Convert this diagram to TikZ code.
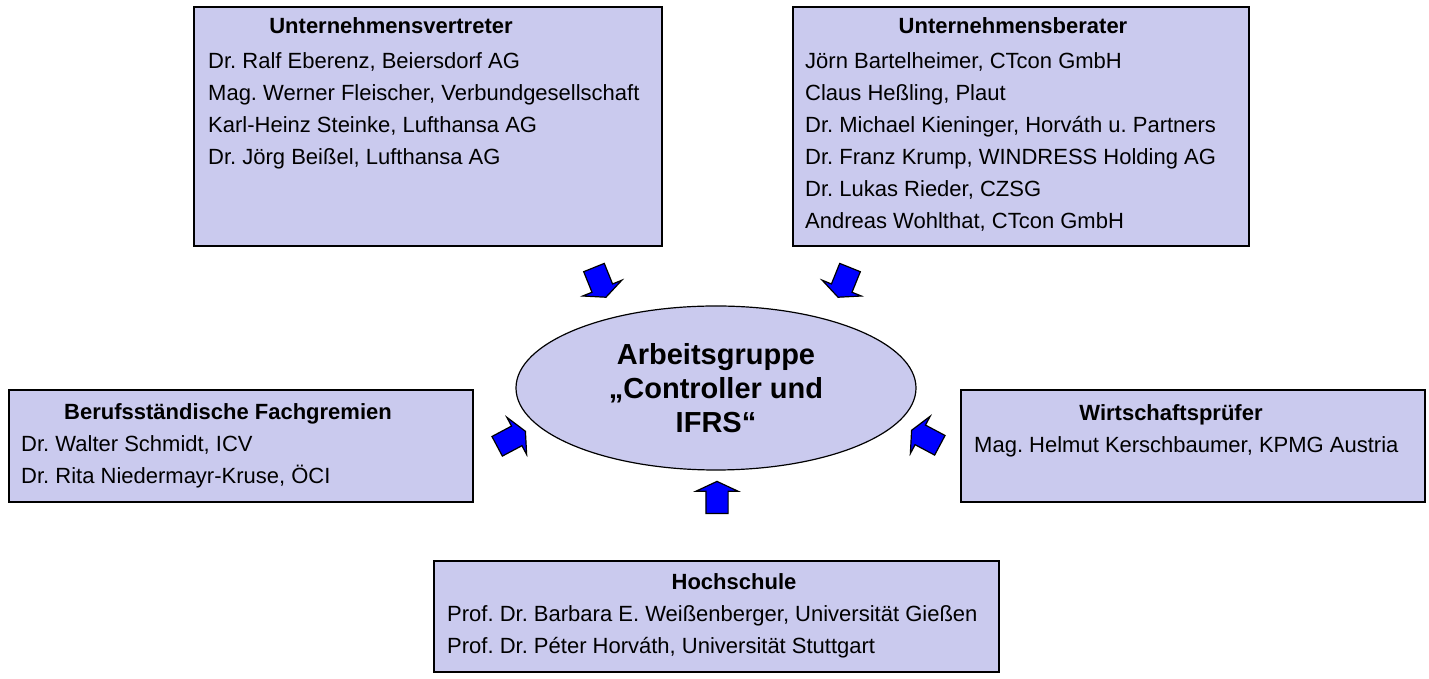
\documentclass[tikz,border=0pt]{standalone}
\usepackage{fontspec}
\setmainfont{Liberation Sans}
\usetikzlibrary{shapes.geometric,shapes.arrows}
\definecolor{boxfill}{RGB}{202,202,238}
\definecolor{arrowblue}{RGB}{0,0,255}
\frenchspacing

\begin{document}
\begin{tikzpicture}[x=1pt, y=1pt,
    orgbox/.style={draw=black, line width=2pt, fill=boxfill, anchor=south west, inner sep=0pt},
    grouphead/.style={font=\fontsize{22}{26}\selectfont\bfseries, anchor=base, inner sep=0pt},
    member/.style={font=\fontsize{22}{26}\selectfont, anchor=base west, inner sep=0pt},
    inflow/.style={single arrow, draw=black, line width=1.2pt, fill=arrowblue,
      inner xsep=4pt, inner ysep=10.5pt, minimum height=32pt,
      single arrow head extend=10pt, single arrow tip angle=130}]
    \useasboundingbox (0,0) rectangle (1429,679) ;

    % Arbeitsgruppe in der Mitte
    \node[ellipse, draw=black, line width=1.2pt, fill=boxfill, minimum width=400pt, minimum height=164pt,
      align=center, font=\fontsize{29}{34}\selectfont\bfseries] at (716,291) (AG)
      {Arbeitsgruppe\\„Controller und\\IFRS“} ;

    % Unternehmensvertreter
    \node[orgbox, minimum width=468pt, minimum height=239pt] at (193,432) (UV) {} ;
    \node[grouphead] at (391,645) (UVt) {Unternehmensvertreter} ;
    \node[member] at (208,610) (UV1) {Dr. Ralf Eberenz, Beiersdorf AG} ;
    \node[member] at (208,578) (UV2) {Mag. Werner Fleischer, Verbundgesellschaft} ;
    \node[member] at (208,546) (UV3) {Karl-Heinz Steinke, Lufthansa AG} ;
    \node[member] at (208,514) (UV4) {Dr. Jörg Beißel, Lufthansa AG} ;

    % Unternehmensberater
    \node[orgbox, minimum width=456pt, minimum height=239pt] at (792,432) (UB) {} ;
    \node[grouphead] at (1013,645) (UBt) {Unternehmensberater} ;
    \node[member] at (805,610) (UB1) {Jörn Bartelheimer, CTcon GmbH} ;
    \node[member] at (805,578) (UB2) {Claus Heßling, Plaut} ;
    \node[member] at (805,546) (UB3) {Dr. Michael Kieninger, Horváth u. Partners} ;
    \node[member] at (805,514) (UB4) {Dr. Franz Krump, WINDRESS Holding AG} ;
    \node[member] at (805,482) (UB5) {Dr. Lukas Rieder, CZSG} ;
    \node[member] at (805,450) (UB6) {Andreas Wohlthat, CTcon GmbH} ;

    % Berufsstaendische Fachgremien
    \node[orgbox, minimum width=464pt, minimum height=112pt] at (8,176) (BF) {} ;
    \node[grouphead] at (228,259) (BFt) {Berufsständische Fachgremien} ;
    \node[member] at (21,227) (BF1) {Dr. Walter Schmidt, ICV} ;
    \node[member] at (21,195) (BF2) {Dr. Rita Niedermayr-Kruse, ÖCI} ;

    % Wirtschaftspruefer
    \node[orgbox, minimum width=464pt, minimum height=112pt] at (960,176) (WP) {} ;
    \node[grouphead] at (1171,258) (WPt) {Wirtschaftsprüfer} ;
    \node[member] at (974,226) (WP1) {Mag. Helmut Kerschbaumer, KPMG Austria} ;

    % Hochschule
    \node[orgbox, minimum width=565pt, minimum height=111pt] at (433,6) (HS) {} ;
    \node[grouphead] at (734,89) (HSt) {Hochschule} ;
    \node[member] at (447,57) (HS1) {Prof. Dr. Barbara E. Weißenberger, Universität Gießen} ;
    \node[member] at (447,25) (HS2) {Prof. Dr. Péter Horváth, Universität Stuttgart} ;

    % Pfeile zur Arbeitsgruppe
    \node[inflow, rotate=-68] at (599,399) (aUV) {} ;
    \node[inflow, rotate=-112] at (845,399) (aUB) {} ;
    \node[inflow, rotate=28] at (509,239) (aBF) {} ;
    \node[inflow, rotate=152] at (928,240) (aWP) {} ;
    \node[inflow, rotate=90] at (717,179) (aHS) {} ;
  \end{tikzpicture}
\end{document}
